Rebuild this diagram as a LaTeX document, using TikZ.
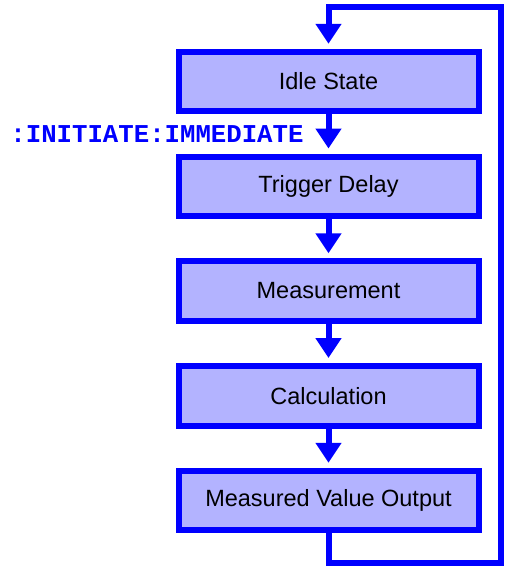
\documentclass[tikz,border=0pt]{standalone}
\usepackage{fontspec}
\setmainfont{Liberation Sans}
\newfontfamily\scpifont{Liberation Mono}
\usetikzlibrary{positioning,arrows.meta}
\definecolor{flowblue}{HTML}{0000FF}
\definecolor{flowfill}{HTML}{B3B3FF}

\begin{document}
\begin{tikzpicture}[x=1pt, y=1pt,
    statebox/.style={draw=flowblue, line width=6pt, fill=flowfill,
      minimum width=300pt, minimum height=59.5pt, inner sep=0pt,
      font=\fontsize{23.5}{28}\selectfont},
    flowarrow/.style={draw=flowblue, line width=6pt, line join=miter,
      -{Triangle[width=25pt,length=20pt]}, shorten >=5pt},
    cmdlabel/.style={text=flowblue, inner sep=0pt,
      font={\scpifont\fontsize{25.7}{30}\selectfont\bfseries}},
    node distance=39.25pt]
  \useasboundingbox (0,0) rectangle (504,-570);
  % measurement cycle
  \node[statebox] (idle) at (328.5,-81.5) {Idle State};
  \node[statebox, below=of idle] (delay) {Trigger Delay};
  \node[statebox, below=of delay] (meas) {Measurement};
  \node[statebox, below=of meas] (calc) {Calculation};
  \node[statebox, below=of calc] (output) {Measured Value Output};
  \draw[flowarrow] (idle) -- (delay)
    node[cmdlabel, midway, left=22pt] (initcmd) {:INITIATE:IMMEDIATE};
  \draw[flowarrow] (delay) -- (meas);
  \draw[flowarrow] (meas) -- (calc);
  \draw[flowarrow] (calc) -- (output);
  % back to idle
  \coordinate (loopbottom) at (500.5,-563);
  \coordinate (looptop) at (500.5,-7);
  \draw[flowarrow] (output) |- (loopbottom) -- (looptop) -| (idle);
\end{tikzpicture}
\end{document}
